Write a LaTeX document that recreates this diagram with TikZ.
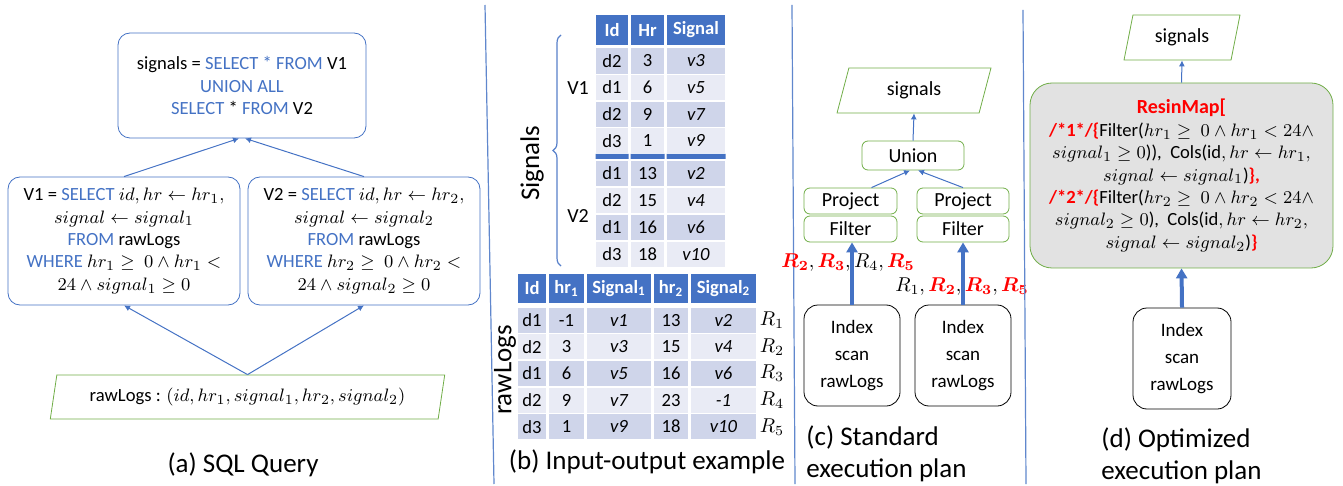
\documentclass[tikz,border=0pt]{standalone}
\usepackage{amsmath,amssymb}
\usepackage[no-math]{fontspec}
\setmainfont{Carlito}
\usepackage{tikz}
\usetikzlibrary{arrows.meta,positioning,shapes.geometric,decorations.pathreplacing}
\definecolor{offblue}{RGB}{68,114,196}
\definecolor{offgreen}{RGB}{112,173,71}
\definecolor{rowdark}{RGB}{207,213,234}
\definecolor{rowlight}{RGB}{233,235,245}
\definecolor{mapgray}{RGB}{226,226,226}
\newcommand{\bodysize}{\fontsize{9.3}{11.2}\selectfont}
\newcommand{\opsize}{\fontsize{10}{12}\selectfont}
\newcommand{\kw}[1]{\textcolor{offblue}{#1}}
\newcommand{\hl}[1]{\textcolor{red}{\bfseries #1}}
\newcommand{\rb}[1]{\textcolor{red}{\boldsymbol{R_{#1}}}}
\tikzset{
  sqlbox/.style={draw=offblue, rounded corners=6pt, align=center, font=\bodysize, inner sep=2pt},
  relbox/.style={trapezium, trapezium left angle=76, trapezium right angle=104,
    trapezium stretches=true, draw=offgreen, font=\opsize, inner sep=1pt},
  opbox/.style={draw=offgreen, rounded corners=3pt, font=\opsize, inner sep=1pt},
  scanbox/.style={draw=black, rounded corners=7pt, align=center, inner sep=1pt,
    font=\fontsize{9.5}{13.5}\selectfont, minimum height=50.5pt},
  mapbox/.style={draw=offgreen, fill=mapgray, rounded corners=11pt, align=center, font=\bodysize},
  thinarr/.style={-{Latex[length=3pt,width=3pt]}, draw=offblue, line width=0.5pt},
  thickarr/.style={-{Triangle[length=5pt,width=5.5pt]}, draw=offblue, line width=2pt},
  hdrcell/.style={fill=offblue, draw=white, line width=0.75pt, text=white,
    font=\bodysize\bfseries, inner sep=0pt},
  cell/.style={draw=white, line width=0.75pt, font=\bodysize, inner sep=0pt},
  caption/.style={font=\fontsize{13.5}{16}\selectfont, align=left, inner sep=0pt},
  divider/.style={draw=offblue!85, line width=0.6pt}
}

\begin{document}
\begin{tikzpicture}[x=0.5pt,y=-0.5pt]
  \useasboundingbox (0,0) rectangle (1343,486);

  % (a) SQL query
  \node[sqlbox, minimum width=124pt, minimum height=52.5pt] (top) at (242,85.5)
    {signals = \kw{SELECT * FROM} V1\\ \kw{UNION ALL}\\ \kw{SELECT} * \kw{FROM} V2};
  \node[sqlbox, minimum width=116pt, minimum height=64pt] (v1) at (124,241)
    {V1 = \kw{SELECT} $id, hr \leftarrow hr_1,$\\ $signal \leftarrow signal_1$\\
     \kw{FROM} rawLogs\\ \kw{WHERE} $hr_1 \geq\ 0 \wedge hr_1 <$\\ $24 \wedge signal_1 \geq 0$};
  \node[sqlbox, minimum width=116pt, minimum height=64pt] (v2) at (364,241)
    {V2 = \kw{SELECT} $id, hr \leftarrow hr_2,$\\ $signal \leftarrow signal_2$\\
     \kw{FROM} rawLogs\\ \kw{WHERE} $hr_2 \geq\ 0 \wedge hr_2 <$\\ $24 \wedge signal_2 \geq 0$};
  \node[relbox, font=\bodysize, minimum width=197.5pt, minimum height=22pt] (raw) at (247.5,397)
    {rawLogs : $(id, hr_1, signal_1, hr_2, signal_2)$};
  \node[caption] (capa) at (243,465) {(a) SQL Query};
  \draw[thinarr] (v1.north) -- ([xshift=-1.5pt]top.south);
  \draw[thinarr] (v2.north) -- ([xshift=1.5pt]top.south);
  \draw[thinarr] (raw.north) -- (v1.south);
  \draw[thinarr] (raw.north) -- (v2.south);

  \draw[divider] (485,5) -- (494,484);

  % (b) input-output example
  \foreach \t/\cx/\w in {Id/612/34,Hr/647.5/35,Signal/696/60}
    \node[hdrcell, minimum width=\w*0.5pt, minimum height=16pt] (sh-\t) at (\cx,30) {\t};
  \foreach \ida/\hra/\sga/\rowc [count=\i] in {d2/3/v3/rowdark,d1/6/v5/rowlight,d2/9/v7/rowdark,d3/1/v9/rowlight,
      d1/13/v2/rowdark,d2/15/v4/rowlight,d1/16/v6/rowdark,d3/18/v10/rowlight} {
    \pgfmathsetmacro\yy{\i<5 ? 61+26.6*(\i-1) : 173.5+26.9*(\i-5)}
    \node[cell, fill=\rowc, minimum width=17pt, minimum height=13.3pt] (sa-\i) at (612,\yy) {\ida};
    \node[cell, fill=\rowc, minimum width=17.5pt, minimum height=13.3pt] (sb-\i) at (647.5,\yy) {\hra};
    \node[cell, fill=\rowc, minimum width=30pt, minimum height=13.3pt, font=\bodysize\itshape] (sc-\i) at (696,\yy) {\sga};
  }
  \fill[offblue] (595.5,154) rectangle (628.5,159) (630.5,154) rectangle (664.5,159) (666.5,154) rectangle (725.5,159);
  \draw[offblue!90, line width=0.6pt, decorate, decoration={brace, amplitude=4pt}] (561,266) -- (561,35);
  \node[caption, rotate=90] (siglab) at (532,163) {Signals};
  \node[font=\opsize] (v1lab) at (578,88) {V1};
  \node[font=\opsize] (v2lab) at (578,216) {V2};

  \foreach \t/\cx/\w [count=\k] in {Id/532/30,hr\textsubscript{1}/566.5/37,Signal\textsubscript{1}/619/66,
      hr\textsubscript{2}/671/36,Signal\textsubscript{2}/723.5/67}
    \node[hdrcell, minimum width=\w*0.5pt, minimum height=15.5pt] (rh-\k) at (\cx,288.5) {\t};
  \foreach \ida/\hra/\sga/\hrb/\sgb/\rowc [count=\i] in {d1/-1/v1/13/v2/rowdark,d2/3/v3/15/v4/rowlight,
      d1/6/v5/16/v6/rowdark,d2/9/v7/23/-1/rowlight,d3/1/v9/18/v10/rowdark} {
    \pgfmathsetmacro\yy{320.3+26.6*(\i-1)}
    \node[cell, fill=\rowc, minimum width=15pt, minimum height=13.3pt] (ra-\i) at (532,\yy) {\ida};
    \node[cell, fill=\rowc, minimum width=18.5pt, minimum height=13.3pt] (rb-\i) at (566.5,\yy) {\hra};
    \node[cell, fill=\rowc, minimum width=33pt, minimum height=13.3pt, font=\bodysize\itshape] (rc-\i) at (619,\yy) {\sga};
    \node[cell, fill=\rowc, minimum width=18pt, minimum height=13.3pt] (rd-\i) at (671,\yy) {\hrb};
    \node[cell, fill=\rowc, minimum width=33.5pt, minimum height=13.3pt, font=\bodysize\itshape] (re-\i) at (723.5,\yy) {\sgb};
    \node[font=\opsize] (rn-\i) at (772,\yy) {$R_{\i}$};
  }
  \node[caption, rotate=90] (rawlab) at (505,370) {rawLogs};
  \node[caption] (capb) at (647,462) {(b) Input-output example};

  \draw[divider] (792,5) -- (795,484);

  % (c) standard plan
  \node[relbox, minimum width=77pt, minimum height=22.5pt] (sigc) at (914,90.5) {signals};
  \node[opbox, minimum width=51pt, minimum height=14.5pt] (un) at (913,155.5) {Union};
  \node[opbox, minimum width=46.5pt, minimum height=13pt] (pl) at (850.5,201) {Project};
  \node[opbox, minimum width=46.5pt, minimum height=13pt] (fl) at (850.5,229) {Filter};
  \node[opbox, minimum width=46pt, minimum height=13pt] (pr) at (963,201) {Project};
  \node[opbox, minimum width=46pt, minimum height=13pt] (fr) at (963,229) {Filter};
  \node[scanbox, minimum width=48pt] (il) at (852,355.5) {Index\\scan\\rawLogs};
  \node[scanbox, minimum width=48pt] (ir) at (963,355.5) {Index\\scan\\rawLogs};
  \node[font=\opsize] (rsl) at (848,263) {$\rb{2}, \rb{3}, R_4, \rb{5}$};
  \node[font=\opsize] (rsr) at (962,287) {$R_1, \rb{2}, \rb{3}, \rb{5}$};
  \draw[thinarr] (un.north) -- (sigc.south);
  \draw[thinarr] ([xshift=10.5pt]pl.north) -- ([xshift=-1.5pt]un.south);
  \draw[thinarr] (pr.north) -- ([xshift=2.5pt]un.south);
  \draw[thickarr] (il.north) -- (il.north |- fl.south);
  \draw[thickarr] (ir.north) -- (ir.north |- fr.south);
  \node[caption, anchor=west] (capc) at (806,454) {(c) Standard\\execution plan};

  \draw[divider] (1023,10) -- (1026,484);

  % (d) optimized plan
  \node[relbox, minimum width=58pt, minimum height=22.5pt] (sigd) at (1182,37.5) {signals};
  \node[mapbox, minimum width=151.5pt, minimum height=92.5pt] (rmap) at (1181.5,175.5)
    {{\fontsize{10}{12}\selectfont\hl{ResinMap[}}\\
     \hl{/*1*/\{}Filter($hr_1 \geq\ 0 \wedge hr_1 < 24 \wedge$\\
     $signal_1 \geq 0$)),\ \ Cols(id$, hr \leftarrow hr_1,$\\
     $signal \leftarrow signal_1$)\hl{\},}\\
     \hl{/*2*/\{}Filter($hr_2 \geq\ 0 \wedge hr_2 < 24 \wedge$\\
     $signal_2 \geq 0$),\ \ Cols(id$, hr \leftarrow hr_2,$\\
     $signal \leftarrow signal_2$)\hl{\}}};
  \node[scanbox, minimum width=49pt] (iopt) at (1182,358.5) {Index\\scan\\rawLogs};
  \draw[thinarr] (rmap.north) -- (sigd.south);
  \draw[thickarr] (iopt.north) -- (rmap.south);
  \node[caption, anchor=west] (capd) at (1101,456) {(d) Optimized\\execution plan};
\end{tikzpicture}
\end{document}
